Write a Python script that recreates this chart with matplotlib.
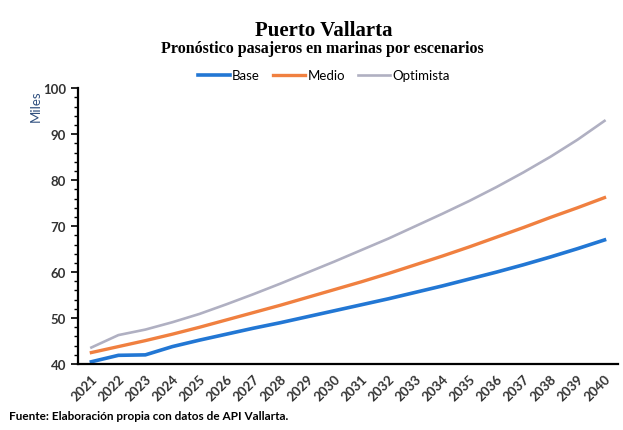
import numpy as np
import matplotlib.pyplot as plt
from matplotlib.ticker import MultipleLocator

years = [str(y) for y in range(2021, 2041)]
base = [40.5, 41.9, 42.0, 43.8, 45.2, 46.5, 47.8, 49.0, 50.3, 51.6,
        52.9, 54.2, 55.6, 57.0, 58.5, 60.0, 61.6, 63.3, 65.1, 67.0]
medio = [42.5, 43.8, 45.1, 46.5, 48.0, 49.6, 51.2, 52.8, 54.5, 56.2,
         57.9, 59.7, 61.6, 63.5, 65.5, 67.6, 69.7, 71.9, 74.0, 76.2]
optimista = [43.6, 46.3, 47.5, 49.1, 50.9, 53.0, 55.2, 57.5, 59.9, 62.3,
             64.8, 67.3, 70.0, 72.7, 75.5, 78.5, 81.7, 85.1, 88.8, 92.9]

plt.rcParams['font.family'] = ['Lato', 'DejaVu Sans']

fig = plt.figure(figsize=(6.23, 4.31), dpi=100)
ax = fig.add_axes([0.125, 0.153, 0.867, 0.640])

x = np.arange(len(years))
ax.plot(x, base, color='#2277D4', lw=2.6, label='Base')
ax.plot(x, medio, color='#F08040', lw=2.4, label='Medio')
ax.plot(x, optimista, color='#B0B0C2', lw=1.9, label='Optimista')

ax.set_xlim(-0.5, len(years) - 0.5)
ax.set_ylim(40, 100)
ax.yaxis.set_major_locator(MultipleLocator(10))
ax.yaxis.set_minor_locator(MultipleLocator(2))
ax.set_xticks(x)
ax.set_xticklabels(years, rotation=45, ha='right', rotation_mode='anchor')
ax.tick_params(axis='x', length=0, pad=6, labelsize=9.5, labelcolor='#333333')
ax.tick_params(axis='y', which='major', length=5, width=1.2, labelsize=9.5,
               labelcolor='#333333')
ax.tick_params(axis='y', which='minor', length=3, width=1.0)
for t in ax.get_xticklabels() + ax.get_yticklabels():
    t.set_fontweight('bold')

for s in ['top', 'right']:
    ax.spines[s].set_visible(False)
ax.spines['left'].set_linewidth(1.6)
ax.spines['bottom'].set_linewidth(1.6)

fig.text(0.058, 0.79, 'Miles', rotation=90, ha='center', va='top',
         fontsize=9.5, color='#2F4F7F')

fig.text(0.52, 0.928, 'Puerto Vallarta', ha='center', va='center',
         fontsize=15, fontweight='bold', family='Liberation Serif')
fig.text(0.518, 0.887, 'Pronóstico pasajeros en marinas por escenarios',
         ha='center', va='center', fontsize=11.5, fontweight='bold',
         family='Liberation Serif')

fig.legend(loc='center', bbox_to_anchor=(0.52, 0.823), ncol=3, frameon=False,
           fontsize=9.5, handlelength=2.4, handletextpad=0.2, columnspacing=1.0)

fig.text(0.015, 0.033, 'Fuente: Elaboración propia con datos de API Vallarta.',
         ha='left', va='center', fontsize=8.5, fontweight='bold')

fig.savefig('out.png', dpi=100, facecolor='white')
